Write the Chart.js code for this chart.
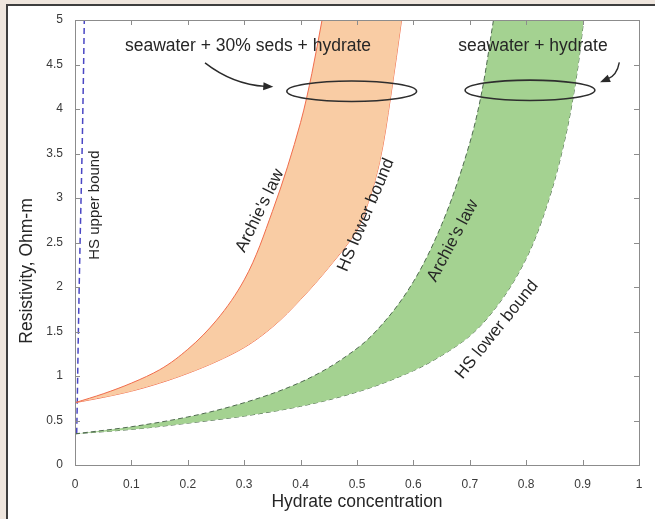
<!DOCTYPE html>
<html>
<head>
<meta charset="utf-8">
<script src="https://cdn.jsdelivr.net/npm/chart.js@4.4.1/dist/chart.umd.min.js"></script>
<style>
  html, body { margin: 0; padding: 0; }
  body { width: 655px; height: 519px; background: #efe6de; position: relative; overflow: hidden; }
  #frame { position: absolute; left: 6px; top: 4px; right: 0; bottom: 0; background: #fff;
           border-top: 2px solid #3e3e3e; border-left: 2px solid #3e3e3e; }
  #wrap { position: absolute; left: 0; top: 0; width: 655px; height: 519px; }
</style>
</head>
<body>
<div id="frame"></div>
<div id="wrap"><canvas id="chart" width="655" height="519"></canvas></div>
<script>
// hydrate concentration (x) vs resistivity, Ohm-m (y)
const sedsArchieX = [0, 0.05, 0.10, 0.15, 0.20, 0.25, 0.30, 0.35, 0.40, 0.42, 0.438];
const sedsArchieY = [0.70, 0.80, 0.92, 1.07, 1.30, 1.62, 2.08, 2.85, 3.85, 4.40, 5.0];

const sedsHSX = [0, 0.05, 0.10, 0.15, 0.20, 0.25, 0.30, 0.35, 0.40, 0.45, 0.50, 0.52, 0.54, 0.56, 0.579];
const sedsHSY = [0.70, 0.76, 0.83, 0.92, 1.03, 1.16, 1.32, 1.55, 1.86, 2.22, 2.64, 2.95, 3.40, 4.15, 5.0];

const waterArchieX = [0, 0.10, 0.20, 0.30, 0.40, 0.50, 0.55, 0.60, 0.65, 0.70, 0.72, 0.742];
const waterArchieY = [0.35, 0.43, 0.54, 0.70, 0.93, 1.31, 1.62, 2.06, 2.70, 3.62, 4.15, 5.0];

const waterHSX = [0, 0.10, 0.20, 0.30, 0.40, 0.50, 0.60, 0.65, 0.70, 0.75, 0.80, 0.84, 0.87, 0.89, 0.902];
const waterHSY = [0.35, 0.40, 0.47, 0.55, 0.66, 0.82, 1.06, 1.23, 1.45, 1.80, 2.32, 2.98, 3.70, 4.40, 5.0];

const upperX = [0.003, 0.004, 0.006, 0.009, 0.0125, 0.0145, 0.0165];
const upperY = [0.35, 0.70, 1.50, 2.50, 3.50, 4.20, 5.0];

const xTicks = [0, 0.1, 0.2, 0.3, 0.4, 0.5, 0.6, 0.7, 0.8, 0.9, 1];
const yTicks = [0, 0.5, 1, 1.5, 2, 2.5, 3, 3.5, 4, 4.5, 5];

function pts(xs, ys) {
  return xs.map((x, i) => ({ x: x, y: ys[i] }));
}

const FONT = '"Liberation Sans", Arial, Helvetica, sans-serif';

function text(ctx, str, px, py, angle, size) {
  ctx.save();
  ctx.translate(px, py);
  ctx.rotate(angle * Math.PI / 180);
  ctx.font = size + 'px ' + FONT;
  ctx.fillStyle = '#262626';
  ctx.textAlign = 'center';
  ctx.textBaseline = 'middle';
  ctx.fillText(str, 0, 0);
  ctx.restore();
}

function arrow(ctx, p0, c, p1) {
  ctx.save();
  ctx.strokeStyle = '#2a2a2a';
  ctx.fillStyle = '#2a2a2a';
  ctx.lineWidth = 1.4;
  const ang = Math.atan2(p1[1] - c[1], p1[0] - c[0]);
  const bx = p1[0] - Math.cos(ang) * 8, by = p1[1] - Math.sin(ang) * 8;
  ctx.beginPath();
  ctx.moveTo(p0[0], p0[1]);
  ctx.quadraticCurveTo(c[0], c[1], bx, by);
  ctx.stroke();
  ctx.beginPath();
  ctx.moveTo(p1[0], p1[1]);
  ctx.lineTo(p1[0] - Math.cos(ang) * 10 - Math.sin(ang) * 4, p1[1] - Math.sin(ang) * 10 + Math.cos(ang) * 4);
  ctx.lineTo(p1[0] - Math.cos(ang) * 10 + Math.sin(ang) * 4, p1[1] - Math.sin(ang) * 10 - Math.cos(ang) * 4);
  ctx.closePath();
  ctx.fill();
  ctx.restore();
}

const decorPlugin = {
  id: 'decor',
  afterDraw(chart) {
    const ctx = chart.ctx;
    const a = chart.chartArea;
    const xs = chart.scales.x, ys = chart.scales.y;
    const X = v => xs.getPixelForValue(v);
    const Y = v => ys.getPixelForValue(v);

    // axes box with inward ticks (matlab style)
    ctx.save();
    ctx.strokeStyle = '#8c8c8c';
    ctx.lineWidth = 1;
    ctx.strokeRect(a.left + 0.5, a.top + 0.5, a.right - a.left, a.bottom - a.top);
    ctx.beginPath();
    xTicks.forEach(v => {
      const px = Math.round(X(v)) + 0.5;
      ctx.moveTo(px, a.bottom); ctx.lineTo(px, a.bottom - 5);
      ctx.moveTo(px, a.top); ctx.lineTo(px, a.top + 5);
    });
    yTicks.forEach(v => {
      const py = Math.round(Y(v)) + 0.5;
      ctx.moveTo(a.left, py); ctx.lineTo(a.left + 5, py);
      ctx.moveTo(a.right, py); ctx.lineTo(a.right - 5, py);
    });
    ctx.stroke();
    ctx.restore();

    // ellipses marking the 4.2 Ohm-m level
    ctx.save();
    ctx.strokeStyle = '#2e2e2e';
    ctx.lineWidth = 1.6;
    [[0.4906, 4.2], [0.8067, 4.21]].forEach(e => {
      ctx.beginPath();
      ctx.ellipse(X(e[0]), Y(e[1]), X(0.115) - X(0), Y(0) - Y(0.115), 0, 0, Math.PI * 2);
      ctx.stroke();
    });
    ctx.restore();

    arrow(ctx, [X(0.2305), Y(4.518)], [X(0.2801), Y(4.274)], [X(0.3516), Y(4.249)]);
    arrow(ctx, [X(0.9651), Y(4.525)], [X(0.961), Y(4.38)], [X(0.9309), Y(4.30)]);

    text(ctx, 'seawater + 30% seds + hydrate', X(0.3067), Y(4.706), 0, 17.5);
    text(ctx, 'seawater + hydrate', X(0.812), Y(4.706), 0, 17.5);
    text(ctx, 'HS upper bound', X(0.0351), Y(2.92), -90, 15);
    text(ctx, "Archie's law", X(0.328), Y(2.857), -64, 17);
    text(ctx, 'HS lower bound', X(0.516), Y(2.81), -67, 17);
    text(ctx, "Archie's law", X(0.670), Y(2.52), -62, 17);
    text(ctx, 'HS lower bound', X(0.748), Y(1.52), -51, 17);

    // axis titles
    text(ctx, 'Hydrate concentration', (a.left + a.right) / 2, a.bottom + 37, 0, 17.5);
    text(ctx, 'Resistivity, Ohm-m', a.left - 48, Y(2.18), -90, 17.5);
  }
};

const ctx = document.getElementById('chart').getContext('2d');
new Chart(ctx, {
  type: 'line',
  data: {
    datasets: [
      {
        label: "Archie's law, seawater + 30% seds",
        data: pts(sedsArchieX, sedsArchieY),
        borderColor: '#f06c4c',
        borderWidth: 1,
        backgroundColor: '#f9cca4',
        fill: '+1'
      },
      {
        label: 'HS lower bound, seawater + 30% seds',
        data: pts(sedsHSX, sedsHSY),
        borderColor: '#f06c4c',
        borderWidth: 1,
        fill: false
      },
      {
        label: "Archie's law, seawater",
        data: pts(waterArchieX, waterArchieY),
        borderColor: '#4f6a4f',
        borderWidth: 1,
        borderDash: [5, 3],
        backgroundColor: '#a4d291',
        fill: '+1'
      },
      {
        label: 'HS lower bound, seawater',
        data: pts(waterHSX, waterHSY),
        borderColor: '#4f6a4f',
        borderWidth: 1,
        borderDash: [5, 3],
        fill: false
      },
      {
        label: 'HS upper bound',
        data: pts(upperX, upperY),
        borderColor: '#4a47c4',
        borderWidth: 1.5,
        borderDash: [6, 4],
        fill: false
      }
    ]
  },
  options: {
    indexAxis: 'y',
    responsive: false,
    animation: false,
    elements: {
      point: { radius: 0 },
      line: { cubicInterpolationMode: 'monotone' }
    },
    layout: { padding: { top: 20, right: 16, left: 0, bottom: 0 } },
    plugins: {
      legend: { display: false },
      tooltip: { enabled: false }
    },
    scales: {
      x: {
        type: 'linear',
        position: 'bottom',
        min: 0,
        max: 1,
        afterBuildTicks: s => { s.ticks = xTicks.map(v => ({ value: v })); },
        afterFit: s => { s.height = 54; },
        grid: { display: false },
        border: { display: false },
        ticks: {
          autoSkip: false,
          maxRotation: 0,
          padding: 4,
          color: '#3a3a3a',
          font: { family: FONT, size: 12 },
          callback: v => String(v)
        }
      },
      y: {
        type: 'linear',
        position: 'left',
        min: 0,
        max: 5,
        afterBuildTicks: s => { s.ticks = yTicks.map(v => ({ value: v })); },
        afterFit: s => { s.width = 75; },
        grid: { display: false },
        border: { display: false },
        ticks: {
          autoSkip: false,
          padding: 4,
          color: '#3a3a3a',
          font: { family: FONT, size: 12 },
          callback: v => String(v)
        }
      }
    }
  },
  plugins: [decorPlugin]
});
</script>
</body>
</html>
